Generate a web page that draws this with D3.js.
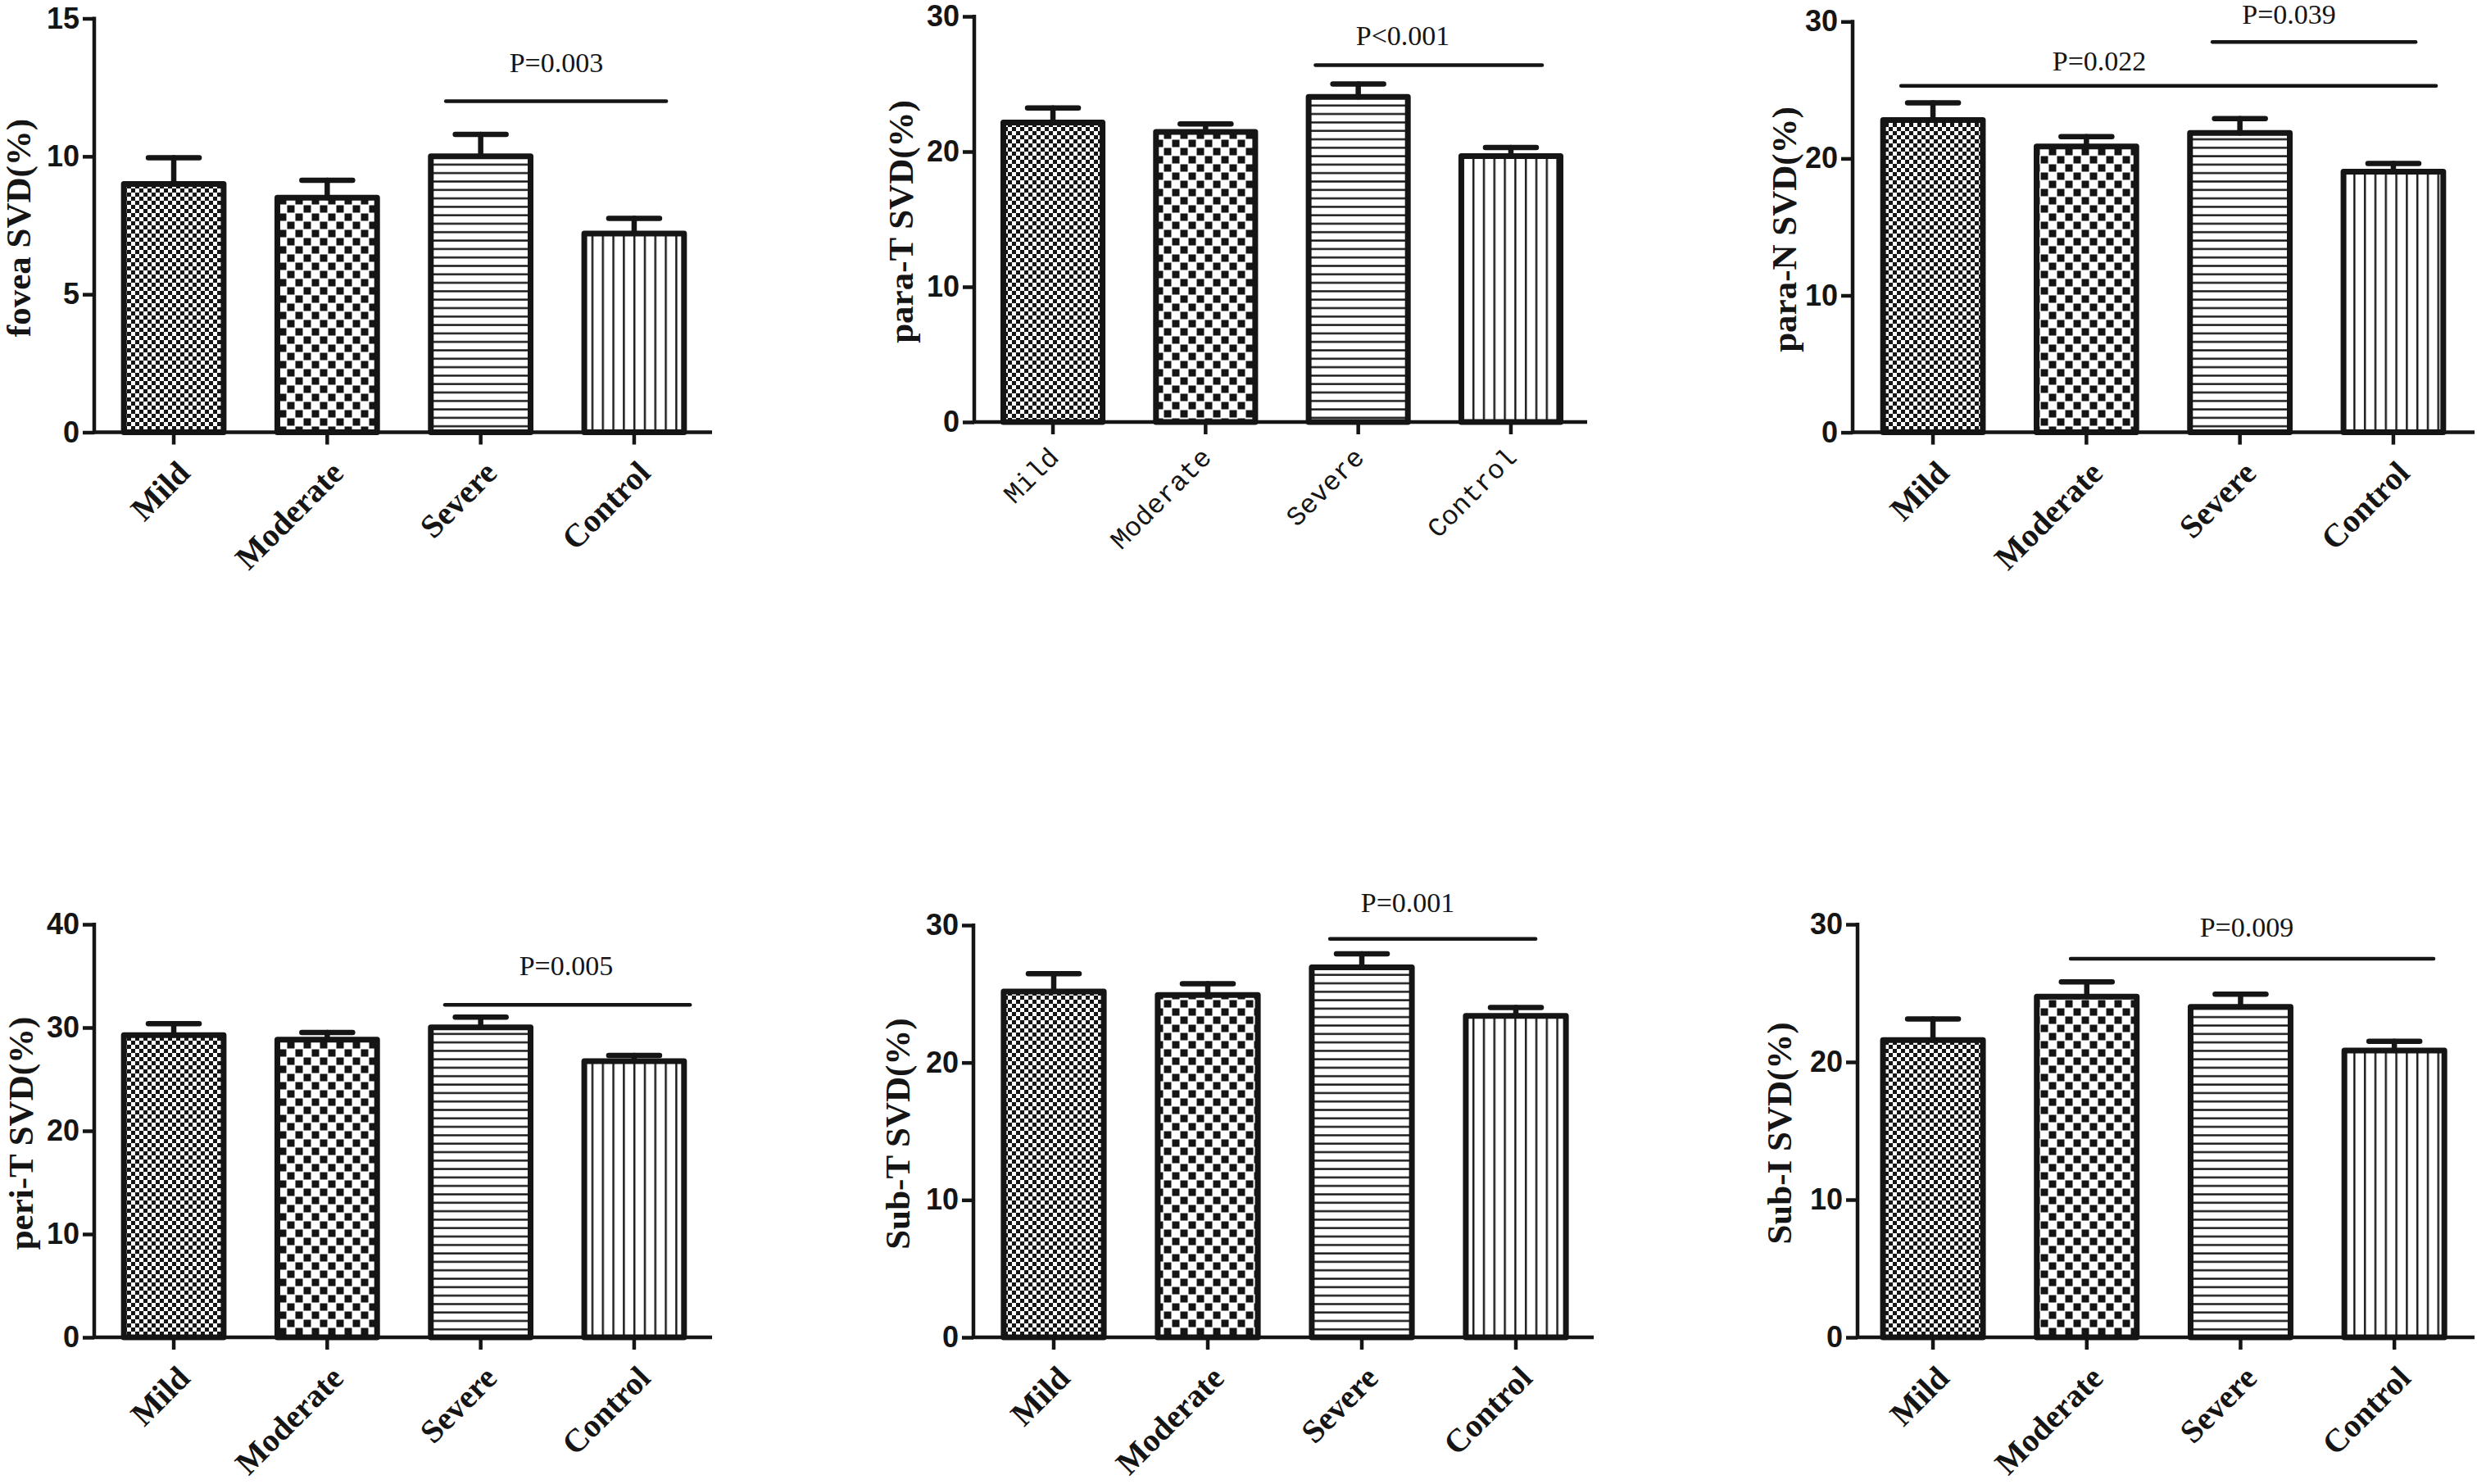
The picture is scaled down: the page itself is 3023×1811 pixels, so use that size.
<!DOCTYPE html>
<html>
<head>
<meta charset="utf-8">
<script src="https://cdn.jsdelivr.net/npm/d3@7"></script>
<style>
  body { margin: 0; background: #fff; }
  #wrapper svg { display: block; }
</style>
</head>
<body>
<div id="wrapper"></div>
<script>
// data (mean and SEM per group)
const groups = ["Mild", "Moderate", "Severe", "Control"]

const foveaMean = [9.0, 8.5, 10.0, 7.2]
const foveaErr = [0.95, 0.63, 0.8, 0.55]
const paraTMean = [22.15, 21.45, 24.05, 19.67]
const paraTErr = [1.07, 0.6, 0.95, 0.63]
const paraNMean = [22.8, 20.87, 21.87, 19.03]
const paraNErr = [1.27, 0.72, 1.04, 0.6]
const periTMean = [29.27, 28.82, 30.01, 26.74]
const periTErr = [1.11, 0.71, 1.0, 0.56]
const subTMean = [25.17, 24.92, 26.93, 23.39]
const subTErr = [1.29, 0.81, 0.98, 0.61]
const subIMean = [21.59, 24.74, 24.01, 20.84]
const subIErr = [1.53, 1.08, 0.92, 0.66]

const foveaTicks = [0, 5, 10, 15]
const thirtyTicks = [0, 10, 20, 30]
const periTicks = [0, 10, 20, 30, 40]

// significance: [from group, to group, bracket height, label]
const foveaSig = [[2, 3, 12.0, "P=0.003"]]
const paraTSig = [[2, 3, 26.4, "P<0.001"]]
const paraNSig = [[0, 3, 25.3, "P=0.022"], [2, 3, 28.5, "P=0.039"]]
const periTSig = [[2, 3, 32.2, "P=0.005"]]
const subTSig = [[2, 3, 29.0, "P=0.001"]]
const subISig = [[1, 3, 27.5, "P=0.009"]]

// layout of the six panels (pixels)
const panels = [
    { title: "fovea SVD(%)", mean: foveaMean, err: foveaErr, ticks: foveaTicks, sig: foveaSig,
      axisX: 115, band: [118.4, 867.6], axisEnd: 869, y0: 527.5, y1: 22.5, titleDx: 78,
      sigLayout: [{ lo: -0.227, hi: 0.209, at: 2.493, gap: 36 }] },
    { title: "para-T SVD(%)", mean: paraTMean, err: paraTErr, ticks: thirtyTicks, sig: paraTSig,
      axisX: 1189, band: [1191.9, 1937.1], axisEnd: 1937, y0: 515, y1: 20, titleDx: 75, mono: true,
      sigLayout: [{ lo: -0.28, hi: 0.204, at: 2.292, gap: 24 }] },
    { title: "para-N SVD(%)", mean: paraNMean, err: paraNErr, ticks: thirtyTicks, sig: paraNSig,
      axisX: 2261, band: [2265.4, 3014.6], axisEnd: 3020, y0: 527.6, y1: 26.3, titleDx: 69,
      sigLayout: [{ lo: -0.208, hi: 0.278, at: 1.084, gap: 19 }, { lo: -0.179, hi: 0.145, at: 2.32, gap: 22 }] },
    { title: "peri-T SVD(%)", mean: periTMean, err: periTErr, ticks: periTicks, sig: periTSig,
      axisX: 115, band: [118.4, 867.6], axisEnd: 869, y0: 1632, y1: 1128, titleDx: 75,
      sigLayout: [{ lo: -0.233, hi: 0.364, at: 2.557, gap: 36 }] },
    { title: "Sub-T SVD(%)", mean: subTMean, err: subTErr, ticks: thirtyTicks, sig: subTSig,
      axisX: 1188, band: [1192, 1944], axisEnd: 1945, y0: 1632, y1: 1129, titleDx: 78,
      sigLayout: [{ lo: -0.207, hi: 0.128, at: 2.298, gap: 33 }] },
    { title: "Sub-I SVD(%)", mean: subIMean, err: subIErr, ticks: thirtyTicks, sig: subISig,
      axisX: 2267, band: [2265.2, 3016], axisEnd: 3020, y0: 1632, y1: 1128, titleDx: 81,
      sigLayout: [{ lo: -0.105, hi: 0.255, at: 2.04, gap: 27 }] },
]

const ink = "#151515"
const serif = "'Liberation Serif', 'Times New Roman', serif"
const sans = "'Liberation Sans', Arial, sans-serif"
const mono = "'Liberation Mono', 'Courier New', monospace"

const wrapper = d3.select("#wrapper")
    .append("svg")
    .attr("width", 3023)
    .attr("height", 1811)
    .style("background", "#fff")

// fill patterns, one per group
const defs = wrapper.append("defs")

const fine = defs.append("pattern")
    .attr("id", "pat-Mild")
    .attr("patternUnits", "userSpaceOnUse")
    .attr("width", 10).attr("height", 10)
fine.append("rect").attr("width", 10).attr("height", 10).attr("fill", "#fff")
fine.append("rect").attr("width", 5).attr("height", 5).attr("fill", ink)
fine.append("rect").attr("x", 5).attr("y", 5).attr("width", 5).attr("height", 5).attr("fill", ink)

const coarse = defs.append("pattern")
    .attr("id", "pat-Moderate")
    .attr("patternUnits", "userSpaceOnUse")
    .attr("width", 20).attr("height", 20)
coarse.append("rect").attr("width", 20).attr("height", 20).attr("fill", "#fff")
coarse.append("rect").attr("x", 0.5).attr("y", 0.5).attr("width", 9).attr("height", 9).attr("fill", ink)
coarse.append("rect").attr("x", 10.5).attr("y", 10.5).attr("width", 9).attr("height", 9).attr("fill", ink)

const horiz = defs.append("pattern")
    .attr("id", "pat-Severe")
    .attr("patternUnits", "userSpaceOnUse")
    .attr("width", 10).attr("height", 10.3)
horiz.append("rect").attr("width", 10).attr("height", 10.3).attr("fill", "#fff")
horiz.append("rect").attr("y", 4).attr("width", 10).attr("height", 2.4).attr("fill", ink)

const vert = defs.append("pattern")
    .attr("id", "pat-Control")
    .attr("patternUnits", "userSpaceOnUse")
    .attr("width", 12.8).attr("height", 10)
vert.append("rect").attr("width", 12.8).attr("height", 10).attr("fill", "#fff")
vert.append("rect").attr("x", 5).attr("width", 2.4).attr("height", 10).attr("fill", ink)

const drawPanel = p => {
    const bounds = wrapper.append("g")

    const xScaler = d3.scaleBand()
        .domain(groups)
        .range(p.band)
        .paddingInner(0.35)
        .paddingOuter(0.175)

    const yScaler = d3.scaleLinear()
        .domain([0, d3.max(p.ticks)])
        .range([p.y0, p.y1])

    const step = xScaler.step()
    const center = i => xScaler(groups[i]) + xScaler.bandwidth() / 2
    const xAt = t => center(0) + t * step

    const rows = groups.map((g, i) => ({ group: g, mean: p.mean[i], err: p.err[i] }))

    // bars
    bounds.append("g")
        .selectAll("rect")
        .data(rows)
        .join("rect")
        .attr("x", d => xScaler(d.group))
        .attr("y", d => yScaler(d.mean))
        .attr("width", xScaler.bandwidth())
        .attr("height", d => yScaler(0) - yScaler(d.mean))
        .attr("fill", d => `url(#pat-${d.group})`)
        .attr("stroke", ink)
        .attr("stroke-width", 7)
        .attr("stroke-linejoin", "round")

    // error bars (upper only)
    const errs = bounds.append("g")
        .attr("stroke", ink)
        .attr("stroke-width", 6.5)
        .attr("stroke-linecap", "round")
    errs.selectAll(".stem")
        .data(rows)
        .join("line")
        .attr("class", "stem")
        .attr("x1", d => xScaler(d.group) + xScaler.bandwidth() / 2)
        .attr("x2", d => xScaler(d.group) + xScaler.bandwidth() / 2)
        .attr("y1", d => yScaler(d.mean))
        .attr("y2", d => yScaler(d.mean + d.err))
    errs.selectAll(".cap")
        .data(rows)
        .join("line")
        .attr("class", "cap")
        .attr("x1", d => xScaler(d.group) + xScaler.bandwidth() / 2 - 31)
        .attr("x2", d => xScaler(d.group) + xScaler.bandwidth() / 2 + 31)
        .attr("y1", d => yScaler(d.mean + d.err))
        .attr("y2", d => yScaler(d.mean + d.err))

    // y axis
    const yAxisGen = d3.axisLeft(yScaler)
        .tickValues(p.ticks)
        .tickSize(14)
        .tickSizeOuter(0)
        .tickPadding(4)
    const yAxis = bounds.append("g")
        .attr("transform", `translate(${p.axisX},0)`)
        .call(yAxisGen)
    yAxis.select(".domain").remove()
    yAxis.selectAll(".tick line").attr("stroke", ink).attr("stroke-width", 4.5)
    yAxis.selectAll(".tick text")
        .attr("fill", ink)
        .style("font-family", sans)
        .style("font-weight", "bold")
        .style("font-size", "36px")

    bounds.append("line")
        .attr("x1", p.axisX).attr("x2", p.axisX)
        .attr("y1", p.y1 - 2).attr("y2", p.y0 + 2)
        .attr("stroke", ink).attr("stroke-width", 4.5)

    // x axis
    const xAxisGen = d3.axisBottom(xScaler)
        .tickSize(15)
        .tickSizeOuter(0)
    const xAxis = bounds.append("g")
        .attr("transform", `translate(0,${p.y0})`)
        .call(xAxisGen)
    xAxis.select(".domain").remove()
    xAxis.selectAll(".tick line").attr("stroke", ink).attr("stroke-width", 4.5)
    xAxis.selectAll(".tick text")
        .attr("x", 0).attr("y", 0).attr("dy", 0)
        .attr("text-anchor", "end")
        .attr("fill", ink)
        .attr("transform", p.mono ? "translate(9,45) rotate(-45)" : "translate(22,52) rotate(-45)")
        .style("font-family", p.mono ? mono : serif)
        .style("font-weight", p.mono ? "normal" : "bold")
        .style("font-size", p.mono ? "33px" : "40px")

    bounds.append("line")
        .attr("x1", p.axisX - 2).attr("x2", p.axisEnd)
        .attr("y1", p.y0).attr("y2", p.y0)
        .attr("stroke", ink).attr("stroke-width", 4.5)

    // y axis title
    bounds.append("text")
        .attr("transform", `translate(${p.axisX - p.titleDx},${(p.y0 + p.y1) / 2 + 3}) rotate(-90)`)
        .attr("text-anchor", "middle")
        .attr("fill", ink)
        .style("font-family", serif)
        .style("font-weight", "bold")
        .style("font-size", "43px")
        .text(p.title)

    // significance brackets
    p.sig.forEach(([from, to, h, label], i) => {
        const lay = p.sigLayout[i]
        bounds.append("line")
            .attr("x1", xAt(from + lay.lo))
            .attr("x2", xAt(to + lay.hi))
            .attr("y1", yScaler(h))
            .attr("y2", yScaler(h))
            .attr("stroke", ink)
            .attr("stroke-width", 4.5)
            .attr("stroke-linecap", "round")
        bounds.append("text")
            .attr("x", xAt(lay.at))
            .attr("y", yScaler(h) - lay.gap)
            .attr("text-anchor", "middle")
            .attr("fill", ink)
            .style("font-family", serif)
            .style("font-size", "34px")
            .text(label)
    })
}

panels.forEach(drawPanel)
</script>
</body>
</html>
